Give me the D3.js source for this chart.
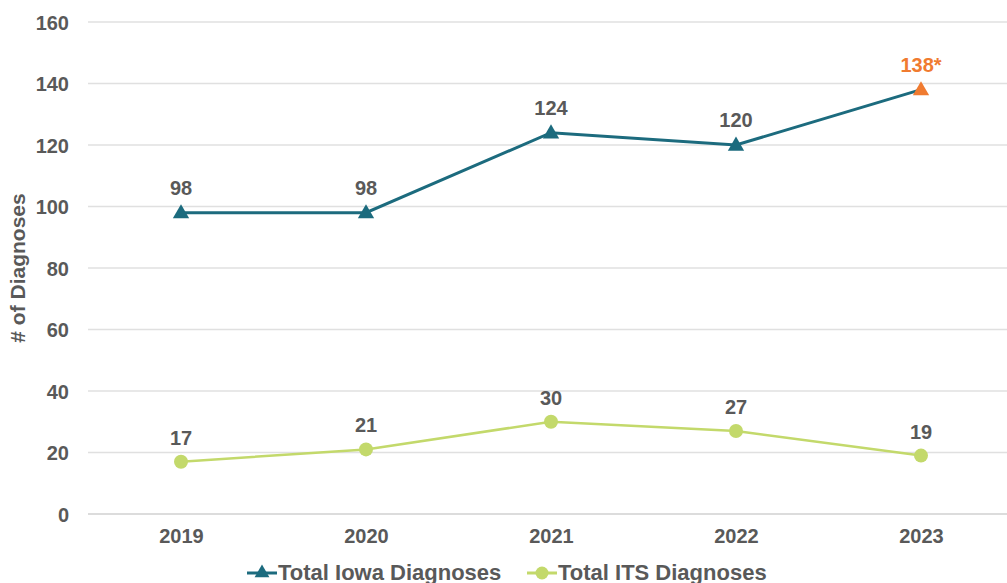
<!DOCTYPE html>
<html>
<head>
<meta charset="utf-8">
<script src="https://cdn.jsdelivr.net/npm/d3@7"></script>
<style>
  body { margin: 0; background: #fff; }
  svg { font-family: 'Liberation Sans', Arial, sans-serif; }
  .tick text { fill: #595959; font-size: 20px; font-weight: bold; }
</style>
</head>
<body>
<div id="chart"></div>
<script>
const years = ['2019', '2020', '2021', '2022', '2023'];
const iowaValues = [98, 98, 124, 120, 138];
const itsValues = [17, 21, 30, 27, 19];
const iowaLabels = ['98', '98', '124', '120', '138*'];
const yTicks = [0, 20, 40, 60, 80, 100, 120, 140, 160];

const teal = '#1c6b7e';
const green = '#c3d96b';
const orange = '#f07b30';
const gray = '#595959';

const svg = d3
  .select('#chart')
  .append('svg')
  .attr('width', 1007)
  .attr('height', 583);

const xScale = d3.scalePoint().domain(years).range([181, 921]);
const yScale = d3.scaleLinear().domain([0, 160]).range([514, 22]);

// gridlines
svg
  .append('g')
  .selectAll('line')
  .data(yTicks)
  .join('line')
  .attr('x1', 88)
  .attr('x2', 1007)
  .attr('y1', (d) => yScale(d))
  .attr('y2', (d) => yScale(d))
  .attr('stroke', (d) => (d === 0 ? '#d0d0d0' : '#e0e0e0'))
  .attr('stroke-width', 1.3);

// axes
const yAxis = svg
  .append('g')
  .attr('transform', 'translate(69, 0)')
  .call(d3.axisLeft(yScale).tickValues(yTicks).tickSize(0).tickPadding(0));
yAxis.select('.domain').remove();
yAxis.selectAll('text').attr('dy', '0.35em');

const xAxis = svg
  .append('g')
  .attr('transform', 'translate(0, 514)')
  .call(d3.axisBottom(xScale).tickSize(0).tickPadding(15));
xAxis.select('.domain').remove();

// axis title
svg
  .append('text')
  .attr('transform', 'translate(25, 268) rotate(-90)')
  .attr('text-anchor', 'middle')
  .attr('fill', gray)
  .style('font-size', '21px')
  .style('font-weight', 'bold')
  .text('# of Diagnoses');

// lines
const line = d3
  .line()
  .x((d, i) => xScale(years[i]))
  .y((d) => yScale(d));

svg
  .append('path')
  .datum(itsValues)
  .attr('fill', 'none')
  .attr('stroke', green)
  .attr('stroke-width', 2.5)
  .attr('d', line);

svg
  .append('path')
  .datum(iowaValues)
  .attr('fill', 'none')
  .attr('stroke', teal)
  .attr('stroke-width', 3)
  .attr('d', line);

// markers
const tri = d3.symbol().type(d3.symbolTriangle).size(115);

svg
  .selectAll('circle.its')
  .data(itsValues)
  .join('circle')
  .attr('class', 'its')
  .attr('cx', (d, i) => xScale(years[i]))
  .attr('cy', (d) => yScale(d))
  .attr('r', 7)
  .attr('fill', green);

svg
  .selectAll('path.iowa')
  .data(iowaValues)
  .join('path')
  .attr('class', 'iowa')
  .attr('d', tri)
  .attr('transform', (d, i) => `translate(${xScale(years[i])}, ${yScale(d) + 1})`)
  .attr('fill', (d, i) => (i === years.length - 1 ? orange : teal));

// data labels
svg
  .selectAll('text.iowa-label')
  .data(iowaValues)
  .join('text')
  .attr('class', 'iowa-label')
  .attr('x', (d, i) => xScale(years[i]))
  .attr('y', (d) => yScale(d) - 18)
  .attr('text-anchor', 'middle')
  .attr('fill', (d, i) => (i === years.length - 1 ? orange : gray))
  .style('font-size', '20px')
  .style('font-weight', 'bold')
  .text((d, i) => iowaLabels[i]);

svg
  .selectAll('text.its-label')
  .data(itsValues)
  .join('text')
  .attr('class', 'its-label')
  .attr('x', (d, i) => xScale(years[i]))
  .attr('y', (d) => yScale(d) - 17)
  .attr('text-anchor', 'middle')
  .attr('fill', gray)
  .style('font-size', '20px')
  .style('font-weight', 'bold')
  .text((d) => d);

// legend
const legend = [
  { name: 'Total Iowa Diagnoses', color: teal, x: 247, marker: 'tri' },
  { name: 'Total ITS Diagnoses', color: green, x: 527, marker: 'circle' }
];
const ly = 573;
legend.forEach((l) => {
  const g = svg.append('g');
  g.append('line')
    .attr('x1', l.x)
    .attr('x2', l.x + 30)
    .attr('y1', ly)
    .attr('y2', ly)
    .attr('stroke', l.color)
    .attr('stroke-width', 3);
  if (l.marker === 'tri') {
    g.append('path')
      .attr('d', d3.symbol().type(d3.symbolTriangle).size(95))
      .attr('transform', `translate(${l.x + 15}, ${ly})`)
      .attr('fill', l.color);
  } else {
    g.append('circle')
      .attr('cx', l.x + 15)
      .attr('cy', ly)
      .attr('r', 6.5)
      .attr('fill', l.color);
  }
  g.append('text')
    .attr('x', l.x + 31)
    .attr('y', ly + 7)
    .attr('fill', gray)
    .style('font-size', '22px')
    .style('font-weight', 'bold')
    .text(l.name);
});
</script>
</body>
</html>
